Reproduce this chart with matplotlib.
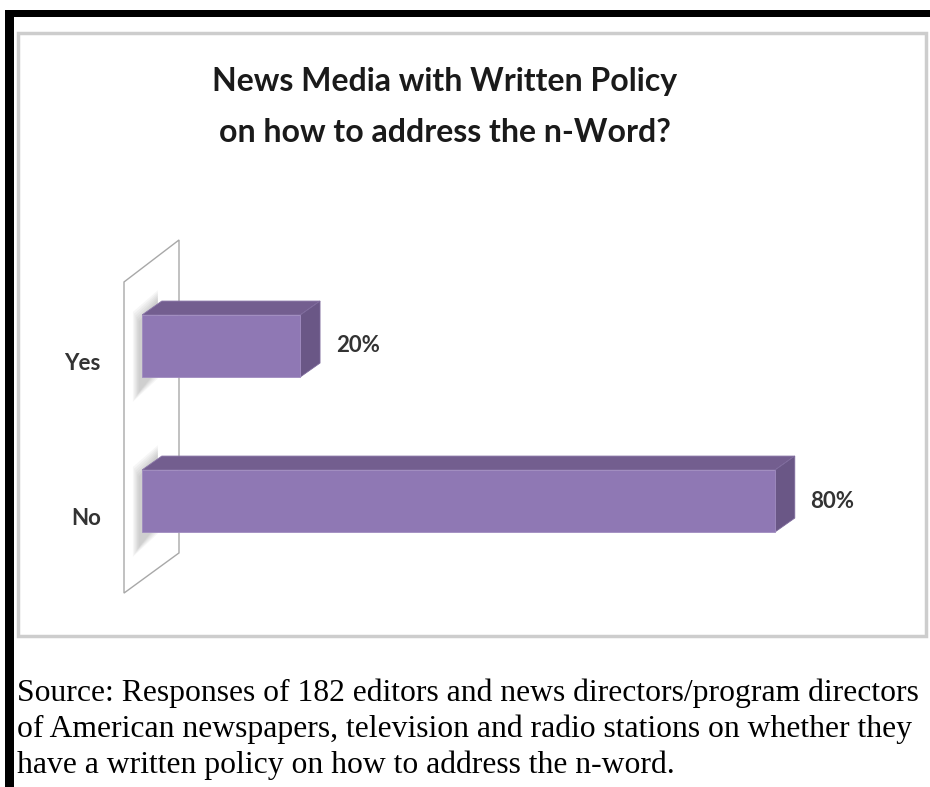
import numpy as np
import matplotlib
matplotlib.use('agg')
import matplotlib.pyplot as plt
from matplotlib.patches import Polygon, Rectangle

# data
categories = ['No', 'Yes']
values = [80, 20]
value_labels = ['80%', '20%']
title_lines = ['News Media with Written Policy', 'on how to address the n-Word?']
caption_lines = ['Source: Responses of 182 editors and news directors/program directors',
                 'of American newspapers, television and radio stations on whether they',
                 'have a written policy on how to address the n-word.']

W, H = 930, 787
FRONT = '#8F78B4'
TOP = '#735E8F'
SIDE = '#6A5786'
DEPTH_X = 2.5    # percent units
DEPTH_Y = 0.09   # category units
BAR_H = 0.4

fig = plt.figure(figsize=(W / 100, H / 100), dpi=100)
fig.patch.set_facecolor('white')

# background frame in pixel coords
bg = fig.add_axes([0, 0, 1, 1])
bg.set_xlim(0, W)
bg.set_ylim(H, 0)
bg.axis('off')
bg.add_patch(Rectangle((5, 10), W - 5, 7, color='black', lw=0))
bg.add_patch(Rectangle((5, 10), 9, H - 10, color='black', lw=0))
bg.add_patch(Rectangle((18, 33), 908, 603, fill=False, ec='#CDCDCD', lw=2.5))

# main chart axes: 1% = 7.91 px, 1 category = 155 px
px_x = 633 / 80.0
px_y = 155.0
ax = fig.add_axes([142 / W, (H - 650) / H, 788 / W, 450 / H])
ax.set_xlim(0, 788 / px_x)
ax.set_ylim(-149 / px_y, 301 / px_y)
ax.axis('off')

ypos = np.arange(len(categories))

# back wall of the y axis
wall = Polygon([(-18 / px_x, -0.594), (-18 / px_x, 1.413),
                (37 / px_x, 1.684), (37 / px_x, -0.335)],
               closed=True, fc='white', ec='#A8A8A8', lw=1.0, clip_on=False, zorder=1)
ax.add_patch(wall)

# soft shadows on the wall
for y in ypos:
    for k in range(6):
        s = k * 0.012
        ax.add_patch(Polygon([(-0.4 - k * 0.15, y - 0.3 - s), (-0.4 - k * 0.15, y + 0.16 + s),
                              (2.0, y + 0.3 + s), (2.0, y - 0.15 - s)],
                             closed=True, fc='#555555', alpha=0.05, lw=0,
                             clip_on=False, zorder=2))

# bars: front face via barh, then top and side faces
ax.barh(ypos, values, height=BAR_H, color=FRONT, edgecolor='#A08CC0', lw=0.6, zorder=4)
for y, v in zip(ypos, values):
    top = y + BAR_H / 2
    bot = y - BAR_H / 2
    ax.add_patch(Polygon([(0, top), (v, top), (v + DEPTH_X, top + DEPTH_Y),
                          (DEPTH_X, top + DEPTH_Y)],
                         closed=True, fc=TOP, ec='#8A76A8', lw=0.6, zorder=3))
    ax.add_patch(Polygon([(v, bot), (v, top), (v + DEPTH_X, top + DEPTH_Y),
                          (v + DEPTH_X, bot + DEPTH_Y)],
                         closed=True, fc=SIDE, ec='#7E6B9C', lw=0.6, zorder=3))

for y, v, lab, cat in zip(ypos, values, value_labels, categories):
    ax.text(v + DEPTH_X + 2.0, y, lab, ha='left', va='center',
            fontsize=16, fontweight='bold', family='Lato', color='#333333')
    ax.text(-5.2, y - 0.11, cat, ha='right', va='center',
            fontsize=16, fontweight='bold', family='Lato', color='#333333')

for i, line in enumerate(title_lines):
    fig.text(445 / W, 1 - (82 + 50 * i) / H, line, ha='center', va='center',
             fontsize=23, fontweight='bold', family='Lato', color='#1A1A1A')

for i, line in enumerate(caption_lines):
    fig.text(17 / W, 1 - (701 + 36 * i) / H, line, ha='left', va='baseline',
             fontsize=22.8, family='Liberation Serif', color='black')

plt.savefig('out.png', dpi=100, facecolor='white')
plt.close()
